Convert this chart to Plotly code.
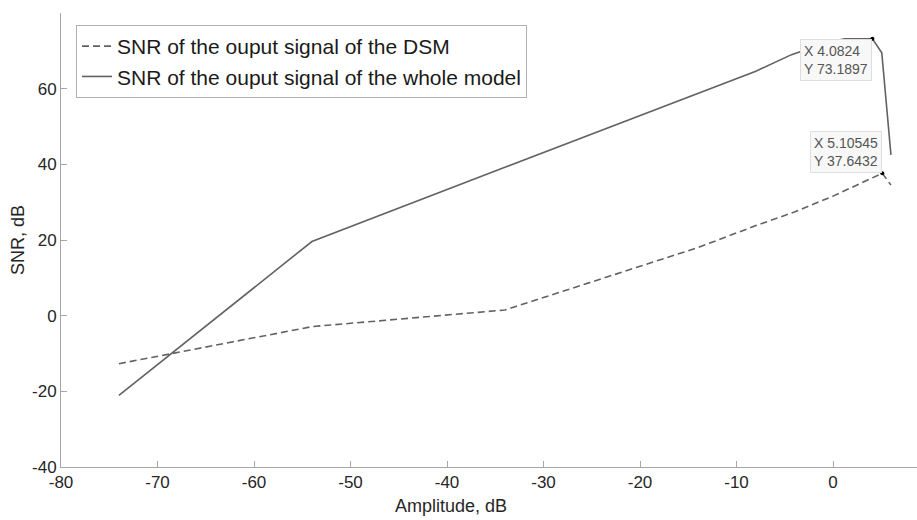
import plotly.graph_objects as go

# ---- data ----
dsm_x = [-74, -54, -34, -14, -8, -4, 0, 2, 5.10545, 6.0]
dsm_y = [-12.7, -2.9, 1.5, 18.0, 23.8, 27.4, 31.6, 34.0, 37.6432, 34.5]

whole_x = [-74, -54, -34, -14, -8, -4.3, -2, 0, 1.2, 4.0824, 5.05, 6.0]
whole_y = [-21.1, 19.6, 39.2, 58.8, 64.6, 69.0, 71.0, 72.5, 73.2, 73.1897, 69.5, 42.5]

tip_x = [4.0824, 5.10545]
tip_y = [73.1897, 37.6432]
tip_labels = ["X 4.0824<br>Y 73.1897", "X 5.10545<br>Y 37.6432"]
tip_yanchor = ["top", "bottom"]

x_ticks = [-80, -70, -60, -50, -40, -30, -20, -10, 0]
x_ticktext = ["-80", "-70", "-60", "-50", "-40", "-30", "-20", "-10", "0"]
y_ticks = [-40, -20, 0, 20, 40, 60, 80]
y_ticktext = ["-40", "-20", "0", "20", "40", "60", ""]

series_names = ["SNR of the ouput signal of the DSM",
                "SNR of the ouput signal of the whole model"]

FONT = "Arial, Liberation Sans, sans-serif"
LINE_COLOR = "#626262"
AXIS_COLOR = "#a6a6a6"

fig = go.Figure()
fig.add_trace(go.Scatter(x=dsm_x, y=dsm_y, mode="lines", name=series_names[0],
                         line=dict(color=LINE_COLOR, width=1.6, dash="7px,4px")))
fig.add_trace(go.Scatter(x=whole_x, y=whole_y, mode="lines", name=series_names[1],
                         line=dict(color=LINE_COLOR, width=1.6)))
fig.add_trace(go.Scatter(x=tip_x, y=tip_y, mode="markers", showlegend=False,
                         marker=dict(color="#000000", size=4)))

for tx, ty, tl, ya in zip(tip_x, tip_y, tip_labels, tip_yanchor):
    fig.add_annotation(x=tx, y=ty, xref="x", yref="y", text=tl, showarrow=False,
                       xanchor="right", yanchor=ya, align="left",
                       font=dict(family=FONT, size=14, color="#555555"),
                       bgcolor="#f8f8f8", bordercolor="#dedede", borderwidth=1,
                       borderpad=3)

# axis titles
fig.add_annotation(text="Amplitude, dB", xref="paper", yref="paper",
                   x=(451 - 61) / 856, y=-(506 - 467) / 454, showarrow=False,
                   xanchor="center", yanchor="middle",
                   font=dict(family=FONT, size=18, color="#262626"))
fig.add_annotation(text="SNR, dB", xref="paper", yref="paper",
                   x=-(61 - 18) / 856, y=0.5, showarrow=False, textangle=-90,
                   xanchor="center", yanchor="middle",
                   font=dict(family=FONT, size=18, color="#262626"))

fig.update_xaxes(range=[-80, 8.7], tickvals=x_ticks, ticktext=x_ticktext,
                 ticks="inside", ticklen=6,
                 tickcolor=AXIS_COLOR, showline=True, linecolor=AXIS_COLOR,
                 linewidth=1, showgrid=False, zeroline=False,
                 tickfont=dict(family=FONT, size=17, color="#262626"))
fig.update_yaxes(range=[-40, 80], tickvals=y_ticks, ticktext=y_ticktext,
                 ticks="inside", ticklen=6, tickcolor=AXIS_COLOR, showline=True,
                 linecolor=AXIS_COLOR, linewidth=1, showgrid=False, zeroline=False,
                 tickfont=dict(family=FONT, size=17, color="#262626"))

fig.update_layout(
    width=917, height=520,
    margin=dict(l=61, r=0, t=13, b=53),
    plot_bgcolor="white", paper_bgcolor="white",
    showlegend=True,
    legend=dict(x=(76 - 61) / 856, y=1 - (25 - 13) / 454, xanchor="left", yanchor="top",
                bgcolor="white", bordercolor="#b0b0b0", borderwidth=1,
                font=dict(family=FONT, size=21, color="#1a1a1a"),
                itemwidth=30, tracegroupgap=0),
)

fig.write_html("out.html")
